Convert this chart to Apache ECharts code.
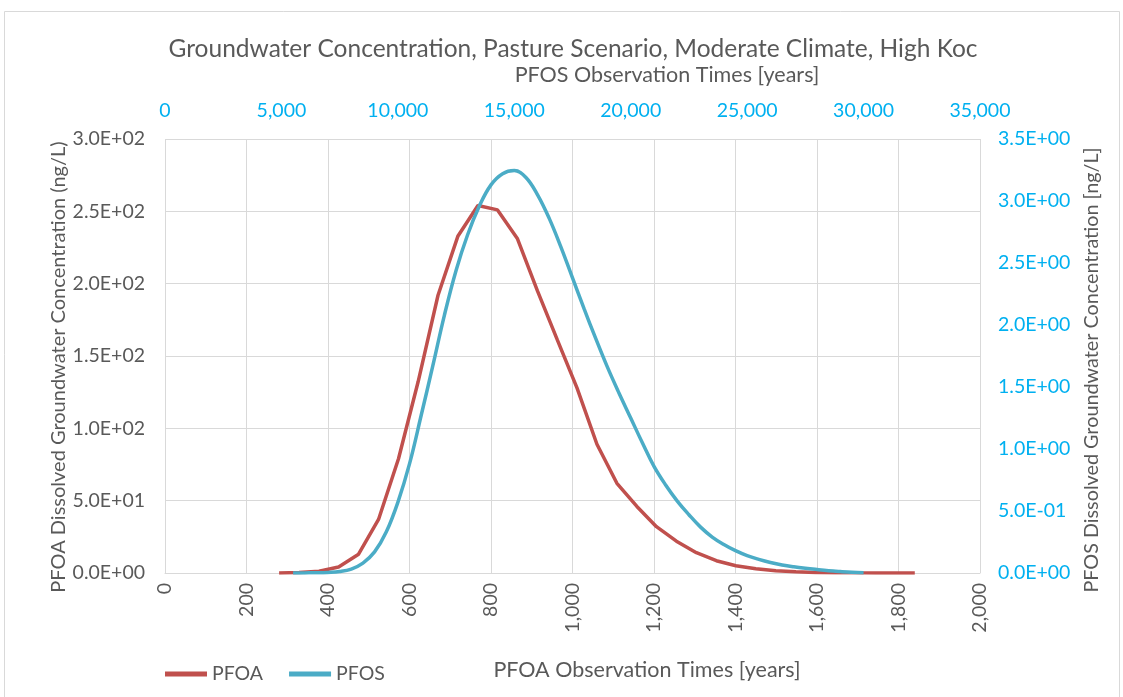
<!DOCTYPE html>
<html>
<head>
<meta charset="utf-8">
<script src="https://cdn.jsdelivr.net/npm/echarts@6/dist/echarts.min.js"></script>
<style>html,body{margin:0;padding:0;background:#fff}#c{width:1123px;height:697px}</style>
</head>
<body>
<div id="c"></div>
<script>
const titleText = 'Groundwater Concentration, Pasture Scenario, Moderate Climate, High Koc';
const seriesNames = ['PFOA', 'PFOS'];
const pfoaYears = [280, 329, 378, 426, 475, 524, 573, 621, 670, 719, 768, 816, 865, 914, 963, 1011, 1060, 1109, 1158, 1206, 1255, 1304, 1353, 1401, 1450, 1499, 1548, 1596, 1645, 1694, 1743, 1791, 1840];
const pfoaConc  = [0, 0.3, 1.2, 4.2, 13, 37, 79, 132, 192, 233, 254, 251, 231, 195, 161, 128, 89, 62, 46, 32, 22, 14, 8.5, 5, 3, 1.6, 0.9, 0.4, 0.2, 0.1, 0.05, 0.03, 0.02];
const pfosYears = [5500, 6000, 6500, 7000, 7500, 8000, 8500, 9000, 9500, 10000, 10500, 11000, 11500, 12000, 12500, 13000, 13500, 14000, 14500, 15000, 15500, 16000, 16500, 17000, 17500, 18000, 18500, 19000, 19500, 20000, 20500, 21000, 21500, 22000, 22500, 23000, 23500, 24000, 24500, 25000, 25500, 26000, 26500, 27000, 27500, 28000, 28500, 29000, 29500, 30000];
const pfosConc  = [0, 0.001, 0.002, 0.005, 0.012, 0.032, 0.08, 0.17, 0.33, 0.57, 0.88, 1.27, 1.67, 2.08, 2.44, 2.73, 2.96, 3.13, 3.22, 3.245, 3.19, 3.05, 2.86, 2.63, 2.38, 2.13, 1.89, 1.66, 1.45, 1.25, 1.05, 0.86, 0.71, 0.58, 0.47, 0.37, 0.29, 0.23, 0.18, 0.14, 0.11, 0.085, 0.065, 0.05, 0.038, 0.028, 0.019, 0.012, 0.006, 0.002];

const FONT = 'Lato';
const GREY = '#595959';
const LBLUE = '#00B0F0';

function sci(v) {
  if (v === 0) return '0.0E+00';
  let e = Math.floor(Math.log10(Math.abs(v)) + 1e-9);
  let m = Math.round(v / Math.pow(10, e) * 10) / 10;
  if (m >= 10) { m /= 10; e += 1; }
  return m.toFixed(1) + 'E' + (e < 0 ? '-' : '+') + String(Math.abs(e)).padStart(2, '0');
}
function commas(v) { return String(Math.round(v)).replace(/\B(?=(\d{3})+(?!\d))/g, ','); }

const chart = echarts.init(document.getElementById('c'), null, {renderer: 'canvas'});
chart.setOption({
  animation: false,
  backgroundColor: '#fff',
  textStyle: {fontFamily: FONT},
  title: {
    text: titleText, left: 568, textAlign: 'center', top: 32,
    textStyle: {fontFamily: FONT, fontSize: 24.5, fontWeight: 'normal', color: GREY}
  },
  legend: {
    left: 160, top: 659, itemWidth: 42, itemHeight: 5, itemGap: 26, icon: 'rect',
    textStyle: {fontFamily: FONT, fontSize: 19.5, color: GREY},
    data: seriesNames
  },
  graphic: [{
    type: 'rect', silent: true, z: -10,
    shape: {x: 4.5, y: 11.5, width: 1115, height: 700},
    style: {fill: 'none', stroke: '#D9D9D9', lineWidth: 1}
  }],
  grid: {left: 165, right: 143, top: 139, bottom: 124, containLabel: false},
  xAxis: [{
    type: 'value', position: 'bottom', min: 0, max: 2000, interval: 200,
    name: 'PFOA Observation Times [years]', nameLocation: 'middle', nameGap: 86,
    nameTextStyle: {fontFamily: FONT, fontSize: 21.5, color: GREY, padding: [0, 0, 0, 149]},
    axisLine: {show: true, lineStyle: {color: '#D9D9D9'}},
    axisTick: {show: false},
    axisLabel: {rotate: 90, margin: 10, fontFamily: FONT, fontSize: 19.5, color: GREY, formatter: commas},
    splitLine: {show: true, lineStyle: {color: '#D9D9D9', width: 1}}
  }, {
    type: 'value', position: 'top', min: 0, max: 35000, interval: 5000,
    name: 'PFOS Observation Times [years]', nameLocation: 'middle', nameGap: 53,
    nameTextStyle: {fontFamily: FONT, fontSize: 21.5, color: GREY, padding: [0, 0, 0, 189]},
    axisLine: {show: false}, axisTick: {show: false},
    axisLabel: {margin: 18, fontFamily: FONT, fontSize: 19.5, color: LBLUE, formatter: commas},
    splitLine: {show: false}
  }],
  yAxis: [{
    type: 'value', position: 'left', min: 0, max: 300, interval: 50,
    name: 'PFOA Dissolved Groundwater Concentration (ng/L)', nameLocation: 'middle', nameGap: 96, nameRotate: 90,
    nameMoveOverlap: false,
    nameTextStyle: {fontFamily: FONT, fontSize: 20, color: GREY, padding: [0, 22, 0, 0]},
    axisLine: {show: false}, axisTick: {show: false},
    axisLabel: {margin: 20, fontFamily: FONT, fontSize: 19.5, color: GREY, formatter: sci},
    splitLine: {show: true, lineStyle: {color: '#D9D9D9', width: 1}}
  }, {
    type: 'value', position: 'right', min: 0, max: 3.5, interval: 0.5,
    name: 'PFOS Dissolved Groundwater Concentration [ng/L]', nameLocation: 'middle', nameGap: 101, nameRotate: 90,
    nameTextStyle: {fontFamily: FONT, fontSize: 19.8, color: GREY, padding: [0, 28, 0, 0]},
    axisLine: {show: false}, axisTick: {show: false},
    axisLabel: {margin: 18, fontFamily: FONT, fontSize: 19.5, color: LBLUE, formatter: sci},
    splitLine: {show: false}
  }],
  series: [{
    name: seriesNames[0], type: 'line', xAxisIndex: 0, yAxisIndex: 0,
    showSymbol: false, symbol: 'none', smooth: false,
    itemStyle: {color: '#C0504D'},
    lineStyle: {color: '#C0504D', width: 3.5},
    data: pfoaYears.map((x, i) => [x, pfoaConc[i]]),
    z: 2
  }, {
    name: seriesNames[1], type: 'line', xAxisIndex: 1, yAxisIndex: 1,
    showSymbol: false, symbol: 'none', smooth: 0.4,
    itemStyle: {color: '#4BACC6'},
    lineStyle: {color: '#4BACC6', width: 3.5},
    data: pfosYears.map((x, i) => [x, pfosConc[i]]),
    z: 3
  }]
});
</script>
</body>
</html>
